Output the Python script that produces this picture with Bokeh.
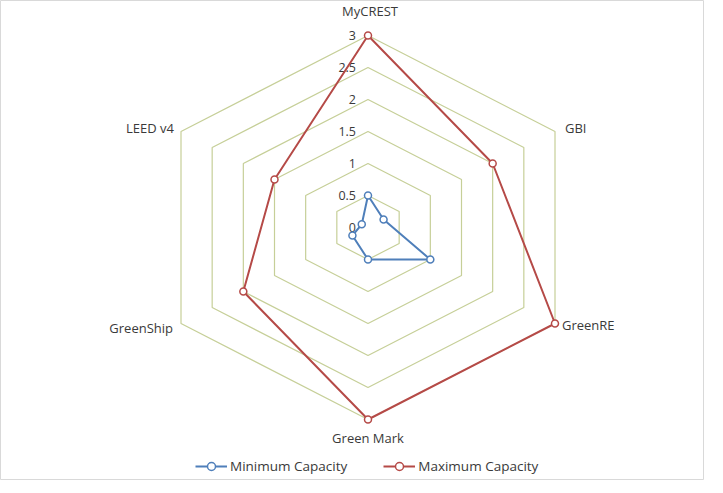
import math
from bokeh.plotting import figure
from bokeh.models import ColumnDataSource, Range1d, Legend, LegendItem
from bokeh.core.properties import value
from bokeh.embed import file_html
from bokeh.resources import INLINE

categories = ["MyCREST", "GBI", "GreenRE", "Green Mark", "GreenShip", "LEED v4"]
min_capacity = [0.5, 0.25, 1.0, 0.5, 0.25, 0.1]
max_capacity = [3.0, 2.0, 3.0, 3.0, 2.0, 1.5]
ring_values = [0.5, 1.0, 1.5, 2.0, 2.5, 3.0]
tick_labels = ["0", "0.5", "1", "1.5", "2", "2.5", "3"]
tick_values = [0, 0.5, 1, 1.5, 2, 2.5, 3]

W, H = 704, 480
CX, CY = 367.5, 227
VMAX = 3.0
RX, RY = 187.0, 192.0  # half-width / radius of outer ring in plot units

n = len(categories)
angles = [math.pi / 2 - 2 * math.pi * i / n for i in range(n)]


def to_xy(vals):
    xs = [v / VMAX * RX * math.cos(a) / math.cos(math.pi / 6) for v, a in zip(vals, angles)]
    ys = [v / VMAX * RY * math.sin(a) for v, a in zip(vals, angles)]
    return xs, ys


p = figure(width=W, height=H, output_backend="svg", toolbar_location=None,
           x_range=Range1d(-CX, W - CX), y_range=Range1d(-(H - CY), CY),
           min_border=0, background_fill_color="white")
p.axis.visible = False
p.grid.visible = False
p.outline_line_color = "#d9d9d9"
p.outline_line_width = 1

FONT = "Open Sans"
TXT = "#3a3a3a"

# rings
for rv in ring_values:
    xs, ys = to_xy([rv] * n)
    p.line(xs + [xs[0]], ys + [ys[0]], line_color="#c6cf98", line_width=1.2)

# tick labels
p.text(x=[0] * len(tick_values), y=[v / VMAX * RY for v in tick_values], text=tick_labels,
       text_font=value(FONT), text_font_size="12.5px", text_color=TXT,
       text_align="right", text_baseline="middle", x_offset=-12)

# series
colors = {"min": "#4f7fba", "max": "#b54a47"}
renderers = {}
for key, vals in (("min", min_capacity), ("max", max_capacity)):
    xs, ys = to_xy(vals)
    ln = p.line(xs + [xs[0]], ys + [ys[0]], line_color=colors[key], line_width=2)
    sc = p.scatter(xs, ys, marker="circle", size=7, fill_color="white",
                   line_color=colors[key], line_width=1.5)
    renderers[key] = [ln, sc]

# category labels
ox, oy = to_xy([VMAX] * n)
cat_src = ColumnDataSource(dict(
    x=ox, y=oy, text=categories,
    align=["center", "left", "left", "center", "right", "right"],
    xo=[2, 10, 7, 0, -8, -7],
    yo=[-25, -4, 1, 18, 4, -4],
))
p.text(x="x", y="y", text="text", source=cat_src, text_align="align",
       x_offset="xo", y_offset="yo", text_baseline="middle",
       text_font=value(FONT), text_font_size="13px", text_color=TXT)

legend = Legend(items=[
    LegendItem(label="Minimum Capacity", renderers=renderers["min"]),
    LegendItem(label="Maximum Capacity", renderers=renderers["max"]),
], orientation="horizontal", location=(195, 4), spacing=36, padding=0,
    glyph_width=32, label_standoff=3, border_line_color=None,
    background_fill_alpha=0, label_text_font=FONT, label_text_font_size="13.5px",
    label_text_color=TXT)
p.add_layout(legend)

open("out.html", "w").write(file_html(p, INLINE))
